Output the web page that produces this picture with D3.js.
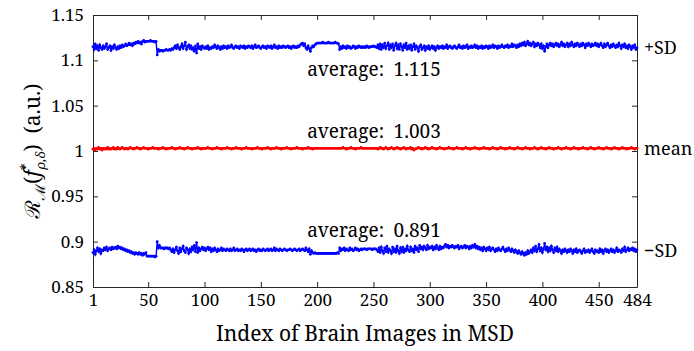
<!DOCTYPE html>
<html>
<head>
<meta charset="utf-8">
<script src="https://cdn.jsdelivr.net/npm/d3@7"></script>
</head>
<body style="margin:0">
<script>
// valores (índices 1..484)
var plusSD = [
  1.115,1.112,1.118,1.113,1.116,1.111,1.117,1.114,1.112,1.116,1.113,1.115,1.118,1.112,1.114,1.116,1.111,1.115,1.113,1.117,
  1.114,1.112,1.115,1.113,1.116,1.114,1.117,1.115,1.116,1.118,1.116,1.117,1.119,1.117,1.118,1.116,1.119,1.118,1.120,1.119,
  1.121,1.119,1.120,1.118,1.121,1.122,1.120,1.121,1.121,1.121,1.121,1.122,1.121,1.121,1.121,1.120,1.121,1.106,1.112,1.110,
  1.111,1.111,1.110,1.111,1.111,1.112,1.111,1.111,1.112,1.111,1.113,1.112,1.114,1.116,1.113,1.117,1.114,1.112,1.115,1.118,
  1.113,1.116,1.120,1.112,1.115,1.117,1.113,1.116,1.112,1.114,1.110,1.116,1.108,1.118,1.113,1.115,1.112,1.116,1.114,1.113,
  1.115,1.113,1.116,1.112,1.114,1.113,1.115,1.114,1.117,1.115,1.113,1.116,1.114,1.112,1.115,1.113,1.116,1.114,1.115,1.113,
  1.116,1.114,1.115,1.117,1.114,1.113,1.115,1.116,1.114,1.115,1.113,1.116,1.115,1.114,1.116,1.113,1.115,1.114,1.116,1.115,
  1.114,1.116,1.113,1.115,1.117,1.114,1.115,1.116,1.114,1.113,1.115,1.116,1.114,1.115,1.113,1.116,1.115,1.114,1.116,1.113,
  1.115,1.117,1.114,1.115,1.113,1.116,1.114,1.115,1.114,1.116,1.115,1.114,1.115,1.116,1.114,1.115,1.113,1.115,1.116,1.114,
  1.115,1.114,1.116,1.115,1.117,1.118,1.119,1.116,1.118,1.114,1.112,1.116,1.113,1.110,1.114,1.116,1.115,1.117,1.118,1.119,
  1.119,1.119,1.119,1.119,1.120,1.119,1.119,1.119,1.119,1.120,1.119,1.119,1.119,1.119,1.119,1.120,1.119,1.119,1.118,1.112,
  1.115,1.113,1.116,1.114,1.115,1.113,1.116,1.114,1.115,1.113,1.114,1.116,1.115,1.113,1.115,1.114,1.116,1.115,1.114,1.115,
  1.114,1.115,1.114,1.116,1.115,1.114,1.115,1.115,1.115,1.116,1.115,1.115,1.114,1.117,1.113,1.118,1.112,1.117,1.114,1.119,
  1.113,1.116,1.119,1.112,1.117,1.114,1.118,1.111,1.116,1.119,1.113,1.117,1.112,1.118,1.115,1.111,1.117,1.114,1.119,1.112,
  1.116,1.113,1.117,1.111,1.115,1.118,1.112,1.116,1.114,1.110,1.115,1.117,1.112,1.114,1.116,1.111,1.115,1.113,1.116,1.112,
  1.114,1.116,1.113,1.115,1.111,1.114,1.116,1.113,1.115,1.114,1.116,1.113,1.115,1.114,1.117,1.113,1.115,1.116,1.114,1.113,
  1.115,1.116,1.114,1.113,1.115,1.117,1.114,1.115,1.113,1.116,1.114,1.115,1.117,1.113,1.115,1.114,1.116,1.114,1.115,1.117,
  1.114,1.116,1.113,1.115,1.114,1.116,1.113,1.115,1.114,1.116,1.115,1.113,1.116,1.114,1.115,1.117,1.114,1.116,1.115,1.113,
  1.116,1.114,1.115,1.117,1.115,1.114,1.116,1.115,1.117,1.114,1.116,1.115,1.118,1.115,1.117,1.116,1.114,1.117,1.115,1.118,
  1.116,1.119,1.117,1.120,1.116,1.118,1.121,1.117,1.119,1.116,1.118,1.120,1.115,1.118,1.116,1.119,1.117,1.114,1.118,1.113,
  1.116,1.110,1.115,1.118,1.114,1.117,1.119,1.116,1.118,1.115,1.117,1.119,1.116,1.118,1.115,1.117,1.120,1.116,1.118,1.115,
  1.117,1.119,1.115,1.118,1.116,1.120,1.117,1.115,1.118,1.116,1.119,1.117,1.115,1.118,1.116,1.119,1.117,1.114,1.118,1.116,
  1.119,1.117,1.115,1.118,1.116,1.117,1.119,1.116,1.118,1.115,1.117,1.119,1.116,1.114,1.118,1.115,1.117,1.119,1.116,1.114,
  1.117,1.115,1.118,1.116,1.114,1.117,1.115,1.119,1.116,1.113,1.117,1.115,1.118,1.114,1.116,1.113,1.117,1.115,1.112,1.116,
  1.114,1.117,1.112,1.114
];

var meanVals = [
  1.002,1.003,1.001,1.003,1.002,1.004,1.002,1.003,1.001,1.003,1.002,1.003,1.002,1.004,1.002,1.003,1.002,1.003,1.004,1.002,
  1.003,1.002,1.004,1.003,1.002,1.003,1.004,1.003,1.002,1.003,1.003,1.002,1.003,1.004,1.003,1.003,1.002,1.003,1.003,1.004,
  1.003,1.003,1.002,1.003,1.003,1.004,1.003,1.003,1.003,1.002,1.003,1.003,1.003,1.004,1.003,1.003,1.003,1.003,1.002,1.003,
  1.003,1.003,1.004,1.003,1.003,1.002,1.003,1.003,1.003,1.003,1.004,1.003,1.003,1.002,1.003,1.003,1.003,1.004,1.003,1.003,
  1.003,1.002,1.003,1.003,1.004,1.003,1.003,1.003,1.002,1.003,1.003,1.003,1.003,1.004,1.003,1.003,1.002,1.003,1.003,1.003,
  1.003,1.003,1.004,1.003,1.003,1.003,1.002,1.003,1.003,1.003,1.004,1.003,1.003,1.003,1.002,1.003,1.003,1.003,1.003,1.004,
  1.003,1.003,1.003,1.002,1.003,1.003,1.003,1.004,1.003,1.003,1.003,1.003,1.002,1.003,1.003,1.003,1.004,1.003,1.003,1.003,
  1.003,1.002,1.003,1.003,1.003,1.003,1.004,1.003,1.003,1.003,1.002,1.003,1.003,1.003,1.003,1.004,1.003,1.003,1.002,1.003,
  1.003,1.003,1.003,1.004,1.003,1.003,1.003,1.002,1.003,1.003,1.003,1.003,1.004,1.003,1.003,1.003,1.002,1.003,1.003,1.003,
  1.003,1.004,1.003,1.003,1.003,1.003,1.002,1.003,1.003,1.003,1.003,1.004,1.003,1.003,1.003,1.002,1.003,1.003,1.003,1.003,
  1.003,1.003,1.003,1.003,1.003,1.003,1.003,1.003,1.003,1.003,1.003,1.003,1.003,1.003,1.003,1.003,1.003,1.003,1.003,1.003,
  1.003,1.003,1.004,1.003,1.003,1.002,1.003,1.003,1.003,1.004,1.003,1.003,1.003,1.002,1.003,1.003,1.003,1.003,1.004,1.003,
  1.003,1.003,1.003,1.003,1.003,1.003,1.003,1.003,1.003,1.003,1.003,1.003,1.003,1.002,1.003,1.004,1.003,1.003,1.002,1.003,
  1.004,1.003,1.002,1.003,1.003,1.004,1.003,1.002,1.003,1.003,1.004,1.003,1.003,1.002,1.003,1.003,1.004,1.003,1.002,1.003,
  1.003,1.003,1.004,1.002,1.003,1.001,1.002,1.003,1.003,1.004,1.003,1.003,1.002,1.003,1.003,1.004,1.003,1.003,1.002,1.003,
  1.003,1.004,1.003,1.003,1.003,1.002,1.003,1.003,1.004,1.003,1.003,1.003,1.002,1.003,1.003,1.003,1.004,1.003,1.003,1.003,
  1.002,1.003,1.003,1.004,1.003,1.003,1.003,1.003,1.002,1.003,1.003,1.004,1.003,1.003,1.003,1.002,1.003,1.003,1.003,1.004,
  1.003,1.003,1.003,1.002,1.003,1.003,1.003,1.004,1.003,1.003,1.003,1.003,1.002,1.003,1.003,1.004,1.003,1.003,1.003,1.002,
  1.003,1.003,1.004,1.003,1.003,1.003,1.002,1.003,1.003,1.003,1.004,1.003,1.003,1.003,1.002,1.003,1.003,1.004,1.003,1.003,
  1.003,1.002,1.003,1.003,1.004,1.003,1.003,1.003,1.002,1.003,1.003,1.003,1.004,1.003,1.003,1.002,1.003,1.003,1.004,1.003,
  1.003,1.003,1.002,1.003,1.003,1.004,1.003,1.003,1.003,1.002,1.003,1.003,1.003,1.004,1.003,1.003,1.002,1.003,1.003,1.003,
  1.004,1.003,1.003,1.003,1.002,1.003,1.003,1.004,1.003,1.003,1.003,1.002,1.003,1.003,1.003,1.004,1.003,1.003,1.003,1.002,
  1.003,1.003,1.004,1.003,1.003,1.002,1.003,1.003,1.003,1.004,1.003,1.003,1.003,1.002,1.003,1.003,1.004,1.003,1.003,1.003,
  1.002,1.003,1.003,1.004,1.003,1.003,1.003,1.002,1.003,1.003,1.004,1.003,1.003,1.003,1.002,1.003,1.003,1.003,1.004,1.003,
  1.003,1.002,1.003,1.003
];

var minusSD = [
  0.888,0.891,0.886,0.890,0.893,0.889,0.892,0.887,0.891,0.890,0.893,0.891,0.894,0.890,0.892,0.893,0.891,0.894,0.892,0.893,
  0.894,0.892,0.895,0.893,0.894,0.892,0.893,0.891,0.892,0.890,0.891,0.889,0.890,0.888,0.889,0.887,0.888,0.886,0.888,0.887,
  0.886,0.888,0.886,0.887,0.885,0.887,0.886,0.888,0.884,0.884,0.884,0.884,0.884,0.884,0.884,0.883,0.884,0.900,0.893,0.896,
  0.893,0.893,0.893,0.892,0.893,0.893,0.893,0.892,0.893,0.891,0.889,0.892,0.888,0.891,0.894,0.890,0.887,0.893,0.889,0.892,
  0.895,0.890,0.888,0.893,0.891,0.887,0.892,0.889,0.894,0.891,0.896,0.889,0.899,0.888,0.893,0.890,0.892,0.894,0.891,0.893,
  0.890,0.892,0.894,0.891,0.893,0.889,0.892,0.890,0.893,0.891,0.889,0.892,0.890,0.891,0.893,0.890,0.892,0.891,0.890,0.892,
  0.891,0.890,0.892,0.890,0.891,0.893,0.890,0.891,0.892,0.890,0.891,0.890,0.892,0.891,0.889,0.891,0.892,0.890,0.891,0.892,
  0.890,0.891,0.892,0.890,0.891,0.889,0.891,0.892,0.890,0.891,0.890,0.892,0.891,0.890,0.891,0.892,0.890,0.891,0.892,0.890,
  0.891,0.893,0.890,0.892,0.891,0.890,0.892,0.891,0.890,0.891,0.892,0.891,0.890,0.891,0.891,0.892,0.891,0.890,0.891,0.892,
  0.891,0.890,0.891,0.892,0.890,0.891,0.892,0.891,0.890,0.893,0.891,0.889,0.892,0.886,0.890,0.888,0.887,0.888,0.887,0.887,
  0.887,0.887,0.887,0.887,0.887,0.887,0.887,0.887,0.887,0.887,0.887,0.887,0.887,0.887,0.887,0.887,0.887,0.888,0.887,0.893,
  0.890,0.892,0.891,0.893,0.890,0.892,0.891,0.890,0.893,0.891,0.892,0.890,0.891,0.893,0.891,0.892,0.890,0.891,0.892,0.891,
  0.892,0.892,0.892,0.891,0.892,0.892,0.892,0.892,0.891,0.892,0.892,0.892,0.891,0.889,0.893,0.888,0.894,0.890,0.887,0.893,
  0.889,0.895,0.888,0.892,0.890,0.887,0.894,0.889,0.892,0.888,0.895,0.890,0.887,0.893,0.889,0.894,0.888,0.892,0.890,0.895,
  0.891,0.889,0.894,0.890,0.892,0.888,0.895,0.891,0.893,0.889,0.896,0.892,0.894,0.891,0.895,0.893,0.891,0.896,0.892,0.894,
  0.893,0.895,0.891,0.894,0.892,0.896,0.893,0.891,0.895,0.892,0.894,0.893,0.895,0.897,0.894,0.896,0.893,0.895,0.894,0.896,
  0.894,0.893,0.895,0.894,0.896,0.892,0.894,0.895,0.893,0.894,0.896,0.893,0.895,0.894,0.892,0.895,0.893,0.896,0.894,0.897,
  0.893,0.895,0.892,0.894,0.891,0.893,0.890,0.894,0.892,0.890,0.893,0.891,0.894,0.890,0.892,0.893,0.891,0.889,0.892,0.890,
  0.893,0.891,0.890,0.892,0.894,0.891,0.889,0.892,0.890,0.893,0.891,0.889,0.892,0.890,0.888,0.891,0.889,0.887,0.890,0.888,
  0.886,0.889,0.887,0.885,0.888,0.886,0.890,0.887,0.889,0.891,0.888,0.893,0.890,0.895,0.889,0.892,0.897,0.890,0.893,0.888,
  0.892,0.898,0.891,0.894,0.889,0.893,0.890,0.895,0.891,0.888,0.893,0.890,0.894,0.889,0.892,0.890,0.887,0.891,0.889,0.892,
  0.890,0.888,0.891,0.889,0.892,0.890,0.887,0.891,0.889,0.892,0.888,0.890,0.891,0.889,0.887,0.890,0.892,0.888,0.890,0.889,
  0.891,0.888,0.890,0.892,0.889,0.887,0.891,0.889,0.890,0.888,0.892,0.889,0.891,0.887,0.890,0.892,0.889,0.891,0.888,0.890,
  0.892,0.889,0.891,0.888,0.890,0.893,0.889,0.891,0.890,0.888,0.892,0.890,0.894,0.889,0.891,0.893,0.890,0.892,0.891,0.893,
  0.890,0.892,0.889,0.891
];

var yTicks = [0.85, 0.9, 0.95, 1, 1.05, 1.1, 1.15];
var xTicks = [1, 50, 100, 150, 200, 250, 300, 350, 400, 450, 484];
var seriesNames = ["+SD", "mean", "\u2212SD"];
var averages = ["1.115", "1.003", "0.891"];

// fuente con serifa que sí se aplica en este entorno
var FONT = "'Noto Serif'";
var width = 694, height = 351;
var margin = { left: 93, right: 57, top: 15, bottom: 64 };
var innerW = width - margin.left - margin.right;
var innerH = height - margin.top - margin.bottom;

var svg = d3.select("body").append("svg")
  .attr("width", width)
  .attr("height", height);

// título eje x
svg.append("text")
  .attr("x", margin.left + innerW / 2)
  .attr("y", 341)
  .attr("text-anchor", "middle")
  .style("font-family", FONT)
  .style("font-size", "21px")
  .text("Index of Brain Images in MSD");

// título eje y (notación matemática con tspans)
var yl = svg.append("text")
  .attr("transform", "translate(40," + (margin.top + innerH / 2) + ") rotate(-90)")
  .attr("text-anchor", "middle")
  .style("font-family", FONT)
  .style("font-size", "21px");
yl.append("tspan").text("\u211B");
yl.append("tspan").attr("dy", 5).style("font-size", "14px").text("\u2133");
yl.append("tspan").attr("dy", -5).text("(");
yl.append("tspan").style("font-style", "italic").text("f");
yl.append("tspan").attr("dy", -9).style("font-size", "14px").text("*");
yl.append("tspan").attr("dx", -6).attr("dy", 14).style("font-size", "13px").style("font-style", "italic").text("\u03C1,\u03B4");
yl.append("tspan").attr("dy", -5).text(")\u2002(a.u.)");

// textos "average"
var avgY = [76, 138, 237];
averages.forEach(function(a, i) {
  svg.append("text")
    .attr("x", 374)
    .attr("y", avgY[i])
    .attr("text-anchor", "middle")
    .style("font-family", FONT)
    .style("font-size", "19px")
    .text("average:\u2002" + a);
});

var g = svg.append("g")
  .attr("transform", "translate(" + margin.left + "," + margin.top + ")");

var x = d3.scaleLinear().domain([1, 484]).range([0, innerW]);
var y = d3.scaleLinear().domain([0.85, 1.15]).range([innerH, 0]);

// etiquetas a la derecha
var sideVal = [1.115, 1.003, 0.891];
seriesNames.forEach(function(n, i) {
  g.append("text")
    .attr("x", innerW + 7)
    .attr("y", y(sideVal[i]) + 7)
    .style("font-family", FONT)
    .style("font-size", "18px")
    .text(n);
});

// ejes con marcas hacia dentro, caja completa
var tickLen = 5;
var xBottom = g.append("g").attr("transform", "translate(0," + innerH + ")")
  .call(d3.axisBottom(x).tickValues(xTicks).tickFormat(d3.format("d")).tickSizeInner(-tickLen).tickSizeOuter(0).tickPadding(7));
var xTop = g.append("g")
  .call(d3.axisTop(x).tickValues(xTicks).tickFormat("").tickSizeInner(-tickLen).tickSizeOuter(0));
var yLeft = g.append("g")
  .call(d3.axisLeft(y).tickValues(yTicks).tickFormat(function(d) { return String(d); }).tickSizeInner(-tickLen).tickSizeOuter(0).tickPadding(9));
var yRight = g.append("g").attr("transform", "translate(" + innerW + ",0)")
  .call(d3.axisRight(y).tickValues(yTicks).tickFormat("").tickSizeInner(-tickLen).tickSizeOuter(0));

[xBottom, xTop, yLeft, yRight].forEach(function(ax) {
  ax.attr("font-family", null).attr("font-size", null);
  ax.select(".domain").attr("stroke", "#262626").attr("stroke-width", 1);
  ax.selectAll(".tick line").attr("stroke", "#262626");
  ax.selectAll(".tick text")
    .style("font-family", FONT)
    .style("font-size", "17px")
    .attr("fill", "#000");
});

// series
var line = d3.line()
  .x(function(d, i) { return x(i + 1); })
  .y(function(d) { return y(d); });

var series = [
  { vals: plusSD, color: "#0000ff" },
  { vals: meanVals, color: "#ff0000" },
  { vals: minusSD, color: "#0000ff" }
];

series.forEach(function(s) {
  g.append("path")
    .datum(s.vals)
    .attr("fill", "none")
    .attr("stroke", s.color)
    .attr("stroke-width", 1.4)
    .attr("d", line);
  g.append("g").selectAll("circle")
    .data(s.vals)
    .enter()
    .append("circle")
    .attr("cx", function(d, i) { return x(i + 1); })
    .attr("cy", function(d) { return y(d); })
    .attr("r", 1.4)
    .attr("fill", s.color);
});
</script>
</body>
</html>
